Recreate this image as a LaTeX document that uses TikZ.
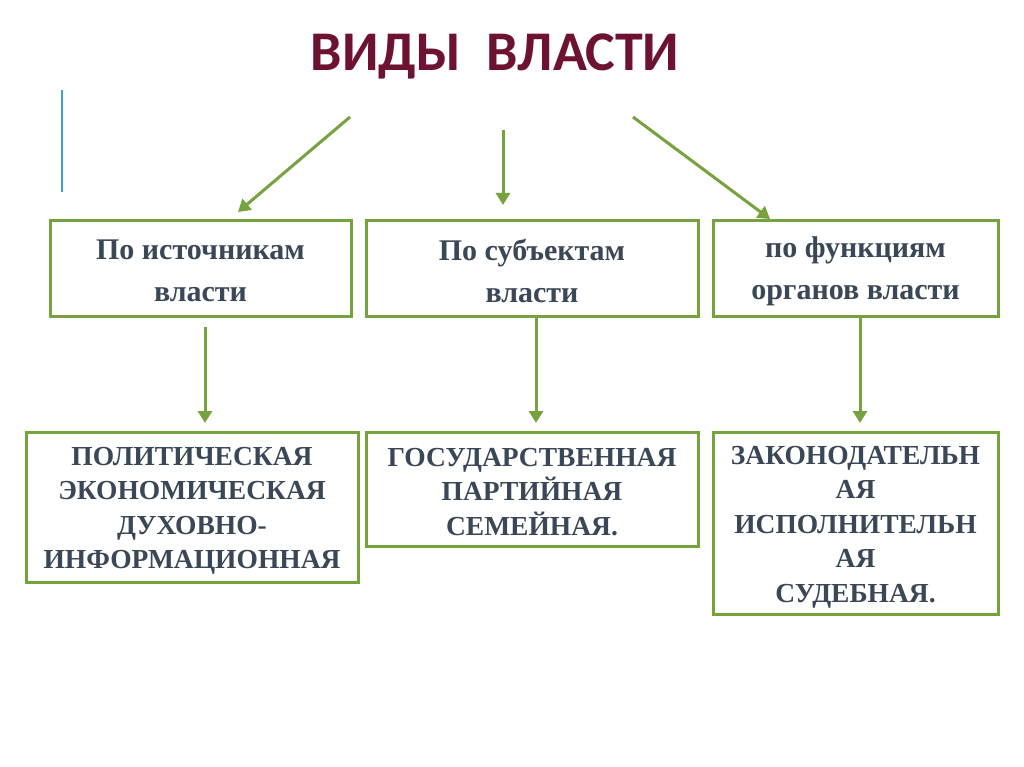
\documentclass[tikz,border=0pt]{standalone}
\usepackage{fontspec}
\setmainfont{Liberation Serif}
\newfontfamily\titlefont{Carlito}
\usetikzlibrary{arrows.meta}
\definecolor{gr}{HTML}{77A33F}
\definecolor{tx}{HTML}{3A4756}
\definecolor{ttl}{HTML}{6E1232}
\definecolor{bl}{HTML}{3BA3D6}
\begin{document}
\begin{tikzpicture}[x=1pt,y=-1pt,
  box/.style={draw=gr,line width=3pt,inner sep=0pt},
  txt/.style={text=tx,font=\bfseries\fontsize{30}{42}\selectfont,align=center},
  txl/.style={text=tx,font=\bfseries\fontsize{27.5}{34.5}\selectfont,align=center},
  arr/.style={draw=gr,line width=3pt,-{Triangle[width=14pt,length=12pt]}}]
\useasboundingbox (0,0) rectangle (1024,767);
\fill[white] (0,0) rectangle (1024,767);
\node[text=ttl,font=\titlefont\bfseries\fontsize{56}{60}\selectfont] (t) at (495,56) {ВИДЫ\ \ ВЛАСТИ};
\draw[bl,line width=2pt] (62,90) -- (62,192);
\draw[box] (50,221) rectangle (351,316);
\draw[box] (366,221) rectangle (698,316);
\draw[box] (713,221) rectangle (998,316);
\draw[box] (26,432) rectangle (358,582);
\draw[box] (366,432) rectangle (698,546);
\draw[box] (713,432) rectangle (998,614);
\node[txt] (b1) at (200.5,271) {По источникам\\власти};
\node[txt] (b2) at (532,271) {По субъектам\\власти};
\node[txt] (b3) at (855.5,271) {по функциям\\органов власти};
\node[txl] (c1) at (192,511) {ПОЛИТИЧЕСКАЯ\\ЭКОНОМИЧЕСКАЯ\\ДУХОВНО-\\ИНФОРМАЦИОННАЯ};
\node[txl] (c2) at (532,492) {ГОСУДАРСТВЕННАЯ\\ПАРТИЙНАЯ\\СЕМЕЙНАЯ.};
\node[txl] (c3) at (855.5,527) {ЗАКОНОДАТЕЛЬН\\АЯ\\ИСПОЛНИТЕЛЬН\\АЯ\\СУДЕБНАЯ.};
\coordinate (a1s) at (350,117); \coordinate (a1e) at (238,212);
\coordinate (a2s) at (503,130); \coordinate (a2e) at (503,205);
\coordinate (a3s) at (633,117); \coordinate (a3e) at (770,219);
\draw[arr] (a1s) -- (a1e);
\draw[arr] (a2s) -- (a2e);
\draw[arr] (a3s) -- (a3e);
\coordinate (v1s) at (205,327); \coordinate (v1e) at (205,423);
\coordinate (v2s) at (536,318); \coordinate (v2e) at (536,423);
\coordinate (v3s) at (860,318); \coordinate (v3e) at (860,423);
\draw[arr] (v1s) -- (v1e);
\draw[arr] (v2s) -- (v2e);
\draw[arr] (v3s) -- (v3e);
\end{tikzpicture}
\end{document}
